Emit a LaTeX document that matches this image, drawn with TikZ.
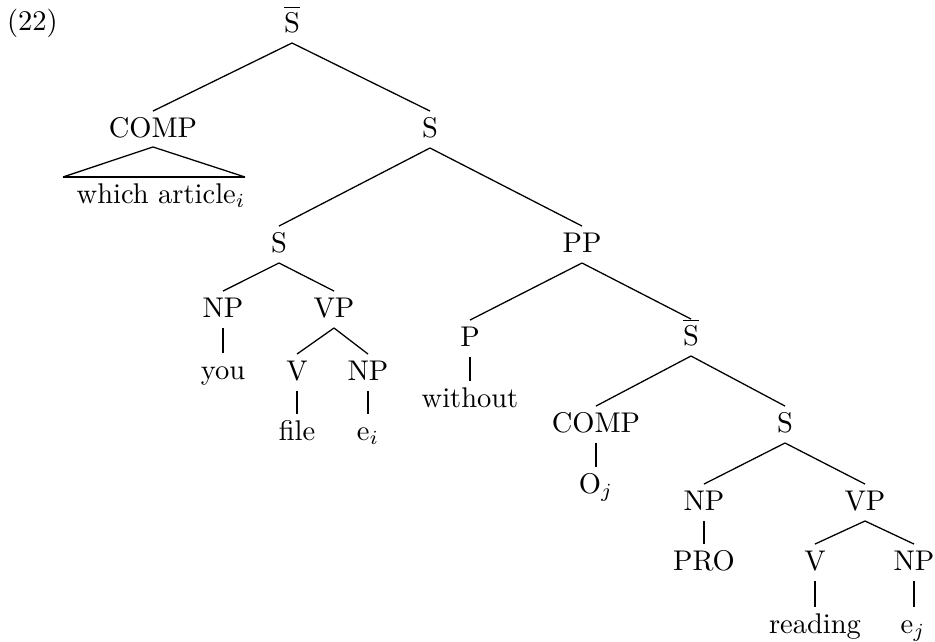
\documentclass[tikz,border=0pt]{standalone}
\newcommand\tedge[2]{\draw[branch] ([yshift=-3.86pt]#1.south) -- ([yshift=2.28pt]#2.north);}
\newcommand\vedge[2]{\draw[stem] ([yshift=-3.86pt]#1.south) -- ([yshift=2.28pt]#1.south |- #2.north);}
\begin{document}
\begin{tikzpicture}[x=0.351pt,y=-0.351pt,
  lab/.style={anchor=base,inner sep=0pt,outer sep=0pt,text height=6.83pt,text depth=0pt,font=\fontsize{10}{12}\selectfont},
  branch/.style={line width=0.45pt},
  stem/.style={line width=0.65pt}]
\useasboundingbox (0,0) rectangle (935,642);
\node[lab,anchor=base west] (ex) at (7,30) {(22)};
\node[lab] (sbar1) at (292,32) {$\overline{\mbox{S}}$};
\node[lab] (comp1) at (153,137) {COMP};
\node[lab] (s1) at (430,137) {S};
\node[lab] (wa) at (161,203) {which article$_i$};
\node[lab] (s2) at (279,252) {S};
\node[lab] (pp) at (582,252) {PP};
\node[lab] (np1) at (223,317) {NP};
\node[lab] (vp1) at (334,317) {VP};
\node[lab] (you) at (223,379) {you};
\node[lab] (v1) at (297,380) {V};
\node[lab] (np2) at (368,380) {NP};
\node[lab] (file) at (297,440) {file};
\node[lab] (ei) at (368,440) {e$_i$};
\node[lab] (p) at (470,346) {P};
\node[lab] (without) at (470,407) {without};
\node[lab] (sbar2) at (691,345) {$\overline{\mbox{S}}$};
\node[lab] (comp2) at (596,432) {COMP};
\node[lab] (s3) at (785,432) {S};
\node[lab] (oj) at (596,493) {O$_j$};
\node[lab] (np3) at (704,510) {NP};
\node[lab] (vp2) at (865,510) {VP};
\node[lab] (pro) at (704,570) {PRO};
\node[lab] (v2) at (815,570) {V};
\node[lab] (np4) at (914,570) {NP};
\node[lab] (reading) at (815,633) {reading};
\node[lab] (ej) at (913,633) {e$_j$};
% branches
\tedge{sbar1}{comp1}
\tedge{sbar1}{s1}
\tedge{s1}{s2}
\tedge{s1}{pp}
\tedge{s2}{np1}
\tedge{s2}{vp1}
\vedge{np1}{you}
\tedge{vp1}{v1}
\tedge{vp1}{np2}
\vedge{v1}{file}
\vedge{np2}{ei}
\tedge{pp}{p}
\tedge{pp}{sbar2}
\vedge{p}{without}
\tedge{sbar2}{comp2}
\tedge{sbar2}{s3}
\vedge{comp2}{oj}
\tedge{s3}{np3}
\tedge{s3}{vp2}
\vedge{np3}{pro}
\tedge{vp2}{v2}
\tedge{vp2}{np4}
\vedge{v2}{reading}
\vedge{np4}{ej}
% triangle
\coordinate (tl) at (63,177);
\coordinate (tr) at (245,177);
\draw[branch] (tl) -- ([yshift=-3.5pt]comp1.south) -- (tr);
\draw[stem] (tl) -- (tr);
\end{tikzpicture}
\end{document}
